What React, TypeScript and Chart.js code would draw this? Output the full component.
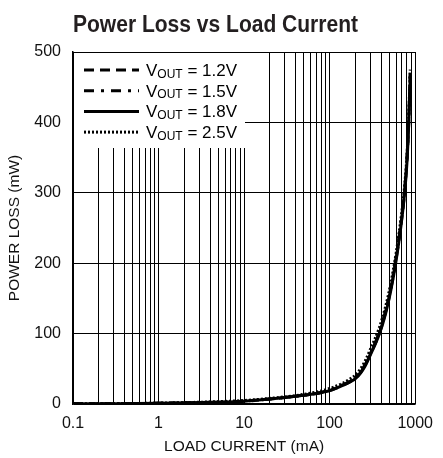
import React, { useEffect, useRef } from 'react';
import { Chart, registerables } from 'chart.js';

Chart.register(...registerables);

// ---- data ----
const currents = [0.1, 0.3, 1, 3, 10, 20, 40, 70, 100, 140, 170, 200, 230, 260, 300, 380, 450, 520, 600, 680, 750, 800, 840, 875];
const loss12 = [0.2, 0.4, 1, 2, 4, 7, 11, 15, 19, 26, 31, 37, 45, 55, 71, 100, 130, 164, 207, 254, 300, 345, 400, 470];
const loss15 = [0.2, 0.4, 1, 2, 4, 7, 11, 15, 20, 27, 32, 38, 46, 56, 72, 102, 132, 166, 210, 257, 303, 348, 403, 468];
const loss18 = [0.2, 0.4, 1, 2, 4, 7, 11, 15, 19, 26, 31, 36, 44, 54, 70, 99, 128, 162, 205, 252, 298, 342, 398, 465];
const loss25 = [0.3, 0.5, 1.2, 2.5, 5, 8, 12, 17, 22, 29, 35, 41, 50, 61, 78, 108, 138, 172, 215, 262, 308, 352, 408, 475];

const seriesVoltages = ['1.2V', '1.5V', '1.8V', '2.5V'];
const seriesDashes = [[10, 6], [10, 7, 3, 7], [], [2, 2]];
const xMajorTicks = [0.1, 1, 10, 100, 1000];
const xTickLabels = ['0.1', '1', '10', '100', '1000'];
const yTickValues = [0, 100, 200, 300, 400, 500];

const titleText = 'Power Loss vs Load Current';
const xTitle = 'LOAD CURRENT (mA)';
const yTitle = 'POWER LOSS (mW)';

const FONT = "'Liberation Sans', Arial, Helvetica, sans-serif";

const insideLegend = {
  id: 'insideLegend',
  beforeDatasetsDraw(chart: any) {
    const { ctx, chartArea } = chart;
    ctx.save();
    ctx.fillStyle = '#fff';
    ctx.fillRect(chartArea.left + 1, chartArea.top + 1, 171, 95);
    seriesVoltages.forEach((v, i) => {
      const y = chartArea.top + 18 + i * 20.7;
      ctx.strokeStyle = '#000';
      ctx.lineWidth = 3;
      ctx.setLineDash(seriesDashes[i]);
      ctx.beginPath();
      ctx.moveTo(chartArea.left + 11, y);
      ctx.lineTo(chartArea.left + 66, y);
      ctx.stroke();
      ctx.setLineDash([]);
      ctx.fillStyle = '#000';
      ctx.textBaseline = 'alphabetic';
      ctx.textAlign = 'left';
      let x = chartArea.left + 73;
      ctx.font = `17px ${FONT}`;
      ctx.fillText('V', x, y + 6);
      x += ctx.measureText('V').width;
      ctx.font = `12px ${FONT}`;
      ctx.fillText('OUT', x, y + 7.5);
      x += ctx.measureText('OUT').width;
      ctx.font = `17px ${FONT}`;
      ctx.fillText(' = ' + v, x, y + 6);
    });
    ctx.restore();
  },
};

// condensed bold title drawn above the plot
const condensedTitle = {
  id: 'condensedTitle',
  afterDraw(chart: any) {
    const { ctx } = chart;
    ctx.save();
    ctx.font = `bold 23px ${FONT}`;
    ctx.fillStyle = '#231f20';
    ctx.textBaseline = 'alphabetic';
    ctx.textAlign = 'center';
    const w = ctx.measureText(titleText).width;
    const sx = 285 / w;
    ctx.translate(215.5, 32);
    ctx.scale(sx, 1);
    ctx.fillText(titleText, 0, 0);
    ctx.restore();
  },
};

export default function App() {
  const canvasRef = useRef<HTMLCanvasElement | null>(null);

  useEffect(() => {
    if (!canvasRef.current) return;
    const lossSeries = [loss12, loss15, loss18, loss25];
    const chart = new Chart(canvasRef.current, {
      type: 'line',
      data: {
        datasets: lossSeries.map((arr, i) => ({
          label: 'VOUT = ' + seriesVoltages[i],
          data: currents.map((c, j) => ({ x: c, y: arr[j] })),
          borderColor: '#000',
          borderWidth: 3,
          borderDash: seriesDashes[i],
          pointRadius: 0,
          fill: false,
          cubicInterpolationMode: 'monotone' as const,
        })),
      },
      options: {
        animation: false,
        responsive: true,
        maintainAspectRatio: false,
        layout: { padding: { left: 0, right: 19, top: 52, bottom: 0 } },
        plugins: {
          legend: { display: false },
          tooltip: { enabled: false },
          title: { display: false },
        },
        scales: {
          x: {
            type: 'logarithmic',
            min: 0.1,
            max: 1000,
            afterFit: (s: any) => { s.height = 54; },
            afterBuildTicks: (s: any) => {
              const t: { value: number; major?: boolean }[] = [];
              for (let d = 0; d < xMajorTicks.length; d++) {
                const base = xMajorTicks[d];
                t.push({ value: base, major: true });
                if (d < xMajorTicks.length - 1) {
                  for (let k = 2; k <= 9; k++) t.push({ value: +(base * k).toPrecision(6) });
                }
              }
              s.ticks = t;
            },
            ticks: {
              autoSkip: false,
              maxRotation: 0,
              minRotation: 0,
              padding: 10,
              color: '#111',
              font: { family: FONT, size: 16 },
              callback: (val: any) => {
                const idx = xMajorTicks.findIndex((m) => Math.abs(m - Number(val)) < 1e-9);
                return idx >= 0 ? xTickLabels[idx] : '';
              },
            },
            grid: { color: '#000', lineWidth: 1, drawTicks: false },
            border: { display: true, color: '#000', width: 1.5 },
            title: {
              display: true,
              text: xTitle,
              color: '#111',
              font: { family: FONT, size: 15.5 },
              padding: { top: 0, bottom: 2 },
            },
          },
          y: {
            min: 0,
            max: 500,
            afterFit: (s: any) => { s.width = 73; },
            afterBuildTicks: (s: any) => { s.ticks = yTickValues.map((v) => ({ value: v })); },
            ticks: {
              padding: 12,
              color: '#111',
              font: { family: FONT, size: 16 },
            },
            grid: { color: '#000', lineWidth: 1, drawTicks: false },
            border: { display: true, color: '#000', width: 1.5 },
            title: {
              display: true,
              text: yTitle,
              color: '#111',
              font: { family: FONT, size: 15.5 },
              padding: { top: 5, bottom: 0 },
            },
          },
        },
      },
      plugins: [insideLegend, condensedTitle],
    });
    return () => chart.destroy();
  }, []);

  return (
    <div style={{ position: 'fixed', left: 0, top: 0, width: 443, height: 458, background: '#fff' }}>
      <canvas ref={canvasRef} />
    </div>
  );
}
